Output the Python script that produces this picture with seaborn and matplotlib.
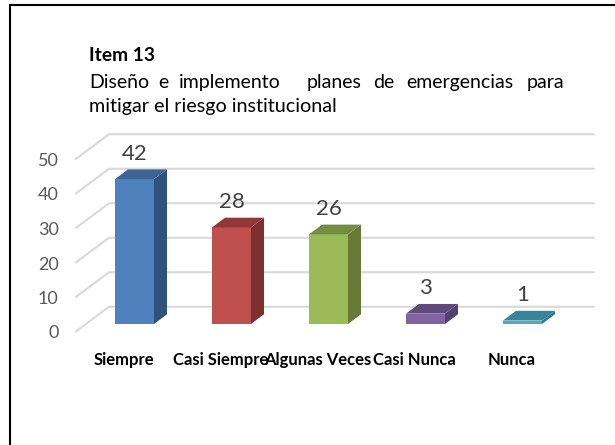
import matplotlib
matplotlib.use("Agg")
import matplotlib.pyplot as plt
from matplotlib.lines import Line2D
from matplotlib.transforms import ScaledTranslation
import seaborn as sns
import pandas as pd

categories = ["Siempre", "Casi Siempre", "Algunas Veces", "Casi Nunca", "Nunca"]
values = [42, 28, 26, 3, 1]
y_levels = [0, 10, 20, 30, 40, 50]
front_colors = ["#4F81BD", "#C0504D", "#9BBB59", "#8064A2", "#4BACC6"]
side_colors = ["#2F527C", "#7E302E", "#677B37", "#54406F", "#2F7A90"]
top_colors = ["#3C6594", "#913836", "#758D43", "#604A7B", "#378499"]
heading = "Item 13"
line2_words = ["Diseño", "e", "implemento", "planes", "de", "emergencias", "para"]
line3 = "mitigar el riesgo institucional"

W, H, DPI = 615, 445, 100
PX_X, PX_Y = 97.0, 3.45          # pixels per category / per unit
X0_PX, Y0_PX = 134.5, 324.0      # pixel position of first bar, value 0

sns.set_theme(style="white")
plt.rcParams["font.family"] = ["Lato", "DejaVu Sans"]

fig = plt.figure(figsize=(W / DPI, H / DPI), dpi=DPI, facecolor="white")
L, R, T, B = 60, 600, 120, 342
ax = fig.add_axes([L / W, 1 - B / H, (R - L) / W, (B - T) / H])

df = pd.DataFrame({"cat": categories, "val": values})
sns.barplot(data=df, x="cat", y="val", hue="cat", palette=front_colors,
            width=0.402, legend=False, ax=ax, saturation=1, zorder=3)

ax.set_xlim((L - X0_PX) / PX_X, (R - X0_PX) / PX_X)
ax.set_ylim((Y0_PX - B) / PX_Y, (Y0_PX - T) / PX_Y)
sns.despine(ax=ax, left=True, bottom=True)
ax.set_xlabel("")
ax.set_ylabel("")

# wall / floor gridlines in perspective
gx0, gx1, gx2 = (75.7 - X0_PX) / PX_X, (109 - X0_PX) / PX_X, (594 - X0_PX) / PX_X
g_front, g_back = -2.2, 5.0
for v in y_levels:
    ax.plot([gx0, gx1, gx2], [v + g_front, v + g_back, v + g_back],
            color="#D9D9D9", lw=1.5, zorder=1, clip_on=False,
            solid_joinstyle="miter")

# 3-D faces of every bar
dx, dy = 13 / PX_X, 9.7 / PX_Y
for patch, v, sc, tc in zip(ax.patches, values, side_colors, top_colors):
    x0, w = patch.get_x(), patch.get_width()
    x1 = x0 + w
    ax.fill([x1, x1 + dx, x1 + dx, x1], [0, dy, v + dy, v], color=sc, lw=0, zorder=3)
    ax.fill([x0, x0 + dx, x1 + dx, x1], [v, v + dy, v + dy, v], color=tc, lw=0, zorder=3)
    patch.set_linewidth(0)
    ax.annotate(str(v), (x0 + w / 2, v), xytext=(0, 25.5 * 72 / DPI),
                textcoords="offset points", ha="center", va="center",
                fontsize=16, color="#404040", zorder=5)

# axes tick labels
ax.set_yticks(y_levels)
ax.set_yticklabels([str(v) for v in y_levels], color="#595959", fontsize=13)
ax.tick_params(axis="y", length=0, pad=1)
ytr = ScaledTranslation(0, -8 / DPI, fig.dpi_scale_trans)
for lab in ax.get_yticklabels():
    lab.set_transform(lab.get_transform() + ytr)

ax.set_xticks(range(len(categories)))
ax.set_xticklabels(categories, fontweight="bold", color="black", fontsize=12)
ax.tick_params(axis="x", length=0, pad=7)
xtr = ScaledTranslation(-11 / DPI, 0, fig.dpi_scale_trans)
for lab in ax.get_xticklabels():
    lab.set_transform(lab.get_transform() + xtr)

# heading block (justified second line placed word by word)
def put(px, py, s, size, **kw):
    fig.text(px / W, 1 - py / H, s, ha="left", va="baseline", color="black",
             fontsize=size, **kw)

put(89, 61, heading, 13.8, fontweight="bold")
for px, word in zip([89, 158, 179, 307, 373, 406, 527], line2_words):
    put(px, 88, word, 14)
put(89, 112, line3, 14.2)

# frame: only top and left edges fall inside the picture
fig.add_artist(Line2D([10 / W, 10 / W, 1], [0, 1 - 5 / H, 1 - 5 / H],
                      color="black", lw=1.5, solid_joinstyle="miter"))

fig.savefig("out.png", dpi=DPI, facecolor="white")
